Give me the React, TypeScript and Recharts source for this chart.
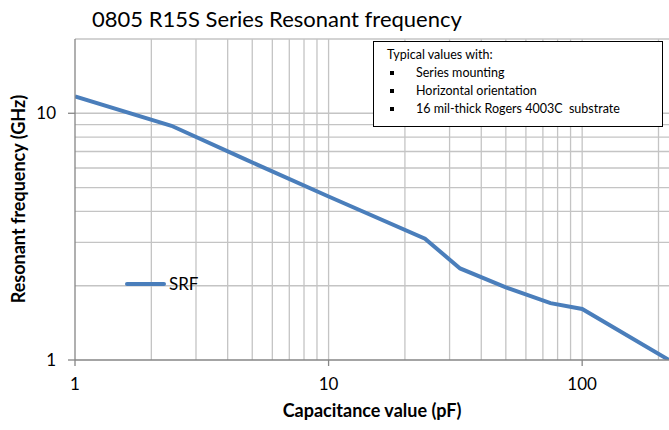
import { Line, LineChart, ReferenceLine, XAxis, YAxis } from "recharts"

// capacitance in pF, self-resonant frequency in GHz
const capacitance = [1, 2.4, 4.7, 10, 24, 33, 50, 75, 100, 220]
const srf = [11.7, 8.9, 6.5, 4.6, 3.1, 2.35, 1.97, 1.7, 1.61, 1.0]

const xTicks = [1, 10, 100]
const yTicks = [1, 10]
const xGrid = [2, 3, 4, 5, 6, 7, 8, 9, 10, 20, 30, 40, 50, 60, 70, 80, 90, 100, 200]
const yGrid = [2, 3, 4, 5, 6, 7, 8, 9, 10, 20]

const notes = ["Series mounting", "Horizontal orientation", "16 mil-thick Rogers 4003C  substrate"]

const data = capacitance.map((c, i) => ({ cap: c, srf: srf[i] }))

const FONT = "Lato, 'Open Sans', sans-serif"
const GRID = "#c4c4c4"
const AXIS = "#868686"
const BLUE = "#4a7ebb"

export default function App() {
  return (
    <div style={{ position: "absolute", left: 0, top: 0, width: 669, height: 430, background: "#fff", fontFamily: FONT }}>
      <LineChart width={669} height={430} data={data} margin={{ top: 39, right: 0, bottom: 0, left: 0 }}>
        {xGrid.map((v) => (
          <ReferenceLine key={"x" + v} x={v} stroke={GRID} strokeWidth={1.3} />
        ))}
        {yGrid.map((v) => (
          <ReferenceLine key={"y" + v} y={v} stroke={GRID} strokeWidth={1.3} />
        ))}
        <XAxis
          dataKey="cap"
          type="number"
          scale="log"
          domain={[1, 220]}
          allowDataOverflow
          ticks={xTicks}
          height={70}
          stroke={AXIS}
          strokeWidth={1.3}
          tickSize={6}
          tickMargin={12}
          tick={{ fill: "#000", fontSize: 17, fontFamily: FONT }}
        />
        <YAxis
          type="number"
          scale="log"
          domain={[1, 20]}
          allowDataOverflow
          ticks={yTicks}
          width={75}
          stroke={AXIS}
          strokeWidth={1.3}
          tickSize={7}
          tickMargin={12}
          tick={{ fill: "#000", fontSize: 17, fontFamily: FONT }}
        />
        <Line
          dataKey="srf"
          name="SRF"
          stroke={BLUE}
          strokeWidth={4}
          dot={false}
          isAnimationActive={false}
        />
      </LineChart>

      {/* legend */}
      <div style={{ position: "absolute", left: 125, top: 273, display: "flex", alignItems: "center", fontSize: 17 }}>
        <span style={{ display: "inline-block", width: 41, height: 4, background: BLUE, borderRadius: 2 }} />
        <span style={{ marginLeft: 3 }}>SRF</span>
      </div>

      <div style={{ position: "absolute", left: 92, top: 5, fontSize: 22, color: "#000", whiteSpace: "nowrap" }}>
        0805 R15S Series Resonant frequency
      </div>

      <div
        style={{
          position: "absolute",
          left: 372,
          top: 399,
          transform: "translateX(-50%)",
          fontSize: 18,
          fontWeight: 700,
          whiteSpace: "nowrap",
        }}
      >
        Capacitance value (pF)
      </div>

      <div
        style={{
          position: "absolute",
          left: 18,
          top: 199,
          transform: "translate(-50%, -50%) rotate(-90deg)",
          fontSize: 18,
          fontWeight: 700,
          whiteSpace: "nowrap",
        }}
      >
        Resonant frequency (GHz)
      </div>

      <div
        style={{
          position: "absolute",
          left: 373,
          top: 41,
          width: 288,
          height: 80,
          border: "1.5px solid #000",
          background: "#fff",
          fontSize: 12.5,
          lineHeight: "18px",
          padding: "4px 0 0 0",
          boxSizing: "content-box",
          whiteSpace: "pre",
        }}
      >
        <div style={{ paddingLeft: 13 }}>Typical values with:</div>
        {notes.map((n) => (
          <div key={n} style={{ position: "relative", paddingLeft: 42 }}>
            <span
              style={{ position: "absolute", left: 16, top: 7, width: 4, height: 4, background: "#000" }}
            />
            {n}
          </div>
        ))}
      </div>
    </div>
  )
}
